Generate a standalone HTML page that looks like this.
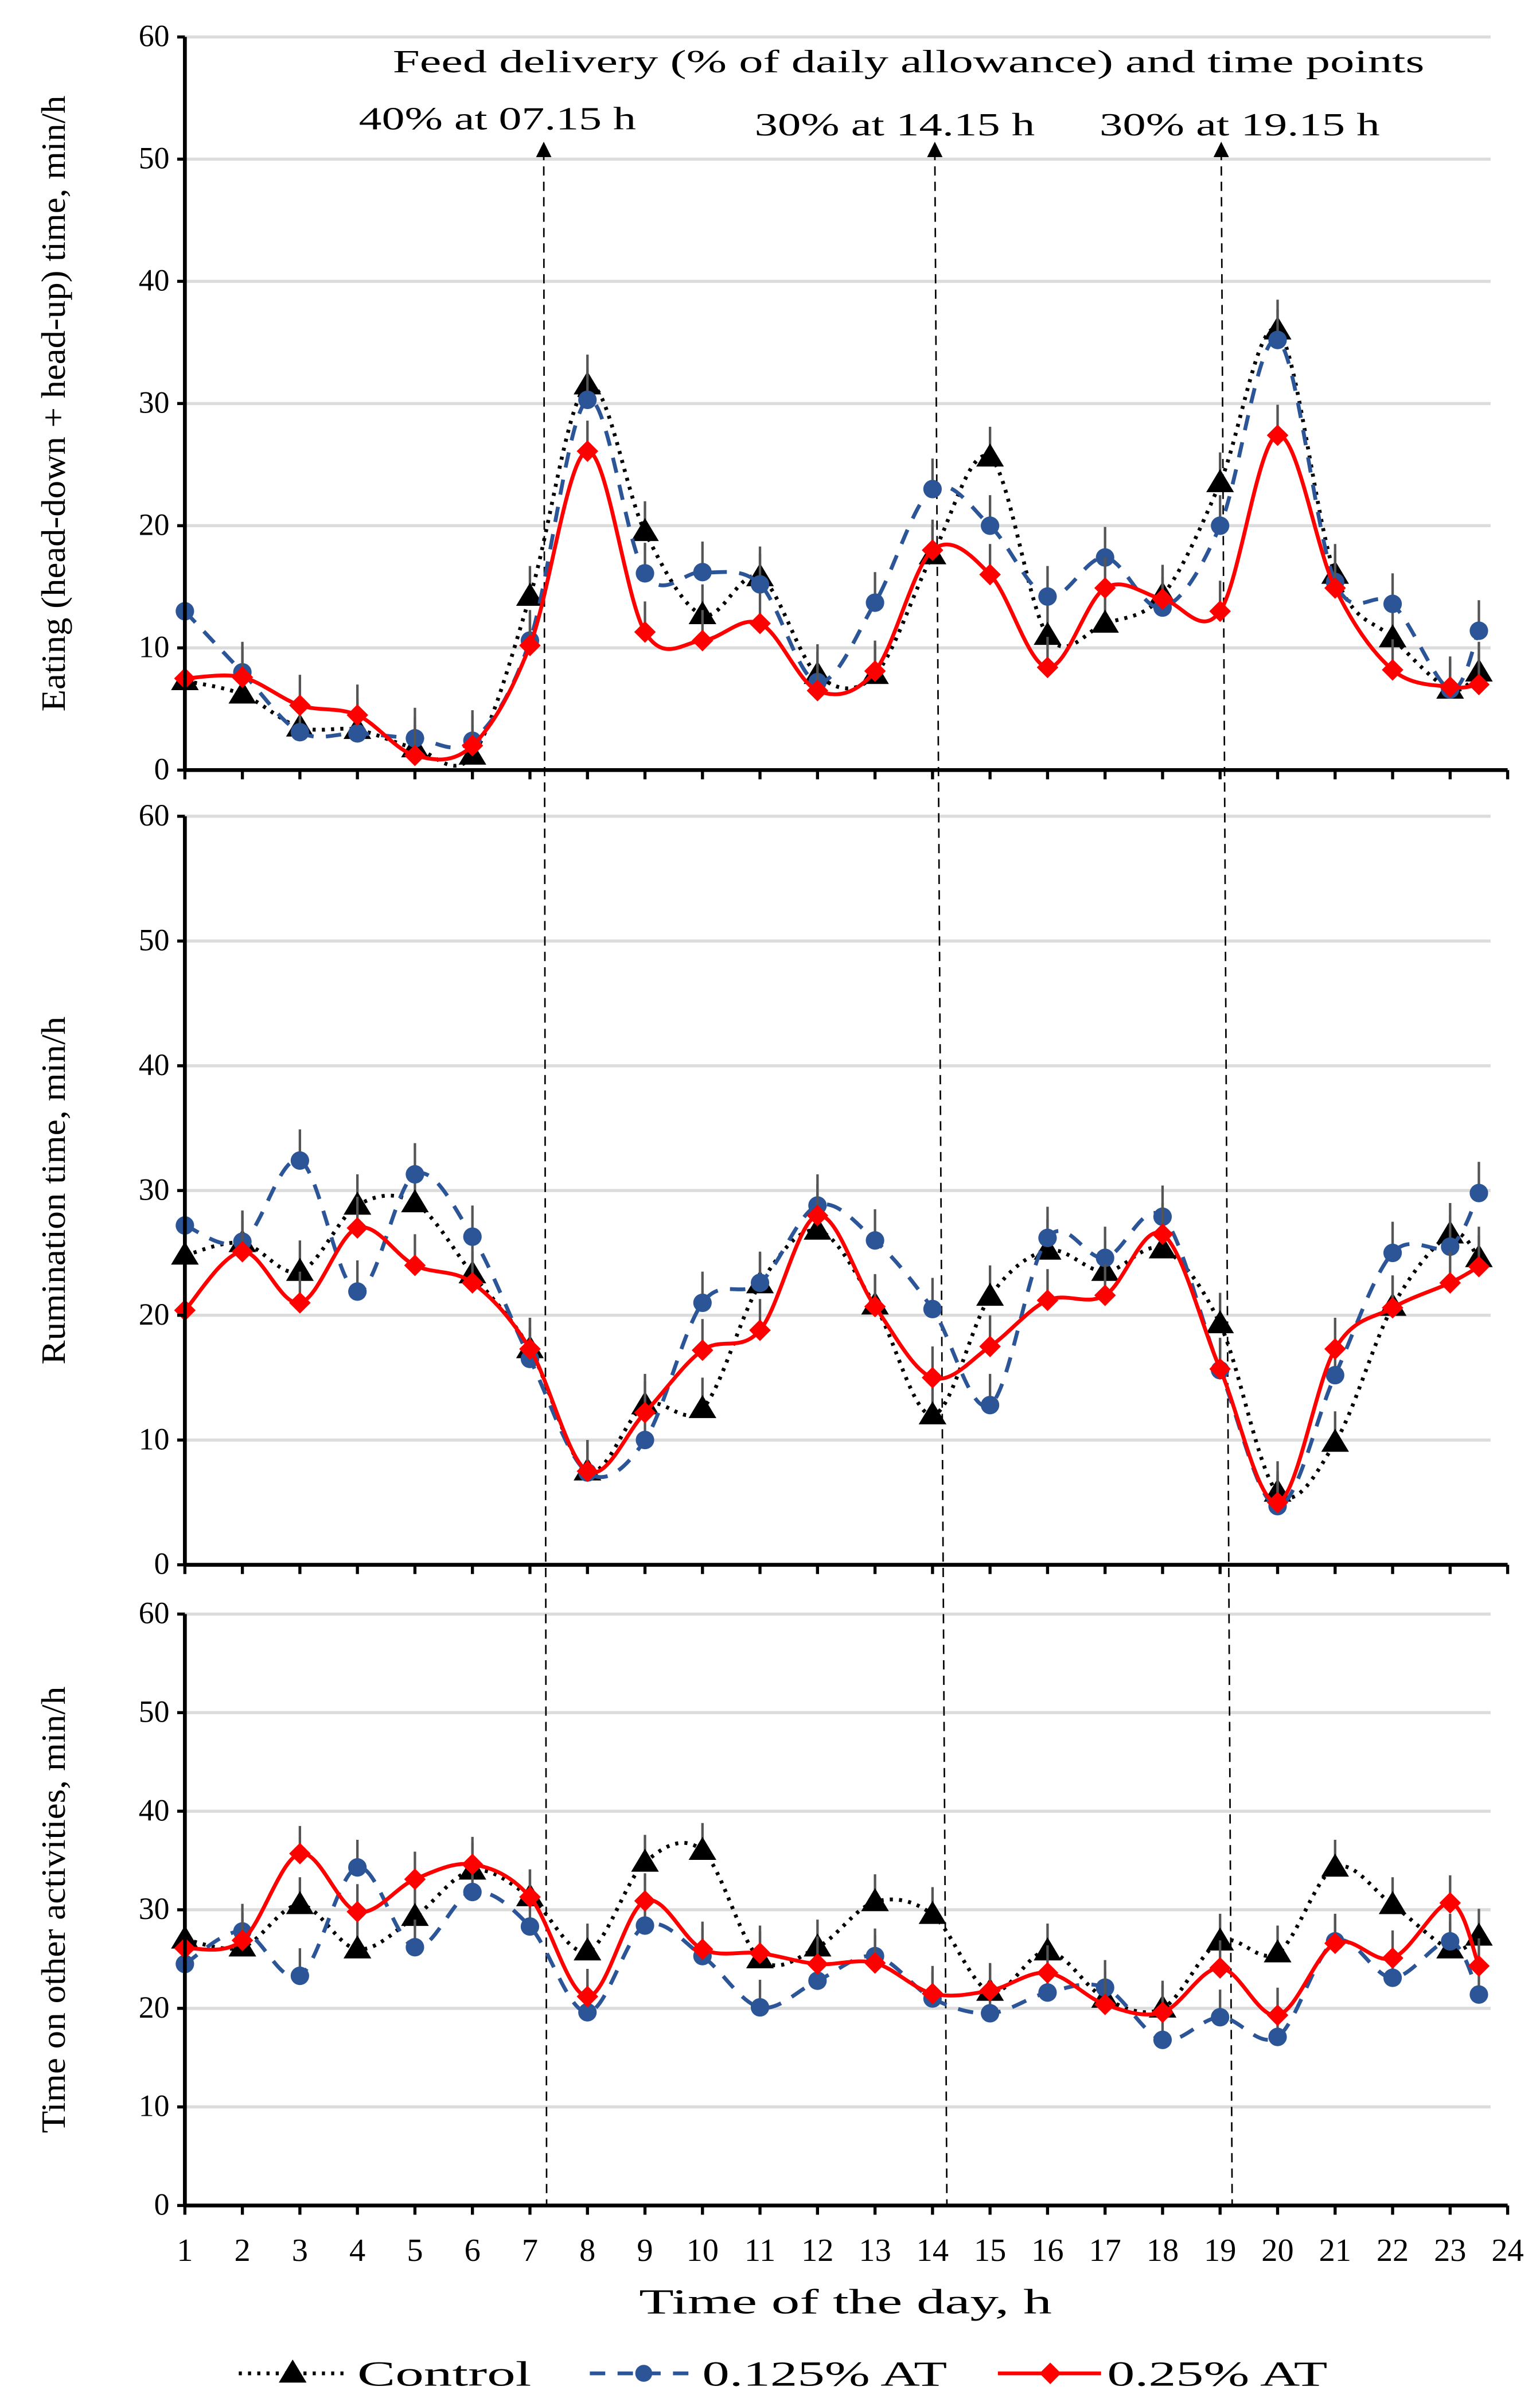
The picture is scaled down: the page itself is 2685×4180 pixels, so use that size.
<!DOCTYPE html>
<html><head><meta charset="utf-8">
<style>html,body{margin:0;padding:0;background:#fff}svg{display:block}text{font-family:"Liberation Serif",serif}</style>
</head><body>
<svg id="chart" xmlns="http://www.w3.org/2000/svg" width="2685" height="4180" viewBox="0 0 1000 1557">
<rect x="0" y="0" width="1000" height="1557" fill="#fff"/>
<g id="grid"></g>
<g id="vlines"></g>
<g id="series"></g>
<g id="axes"></g>
<text x="255" y="47" font-size="21" textLength="670" lengthAdjust="spacingAndGlyphs">Feed delivery  (% of daily allowance) and time points</text>
<text x="233" y="84" font-size="21" textLength="180" lengthAdjust="spacingAndGlyphs">40% at 07.15 h</text>
<text x="490" y="88" font-size="21" textLength="182" lengthAdjust="spacingAndGlyphs">30% at 14.15 h</text>
<text x="714" y="88" font-size="21" textLength="182" lengthAdjust="spacingAndGlyphs">30% at 19.15 h</text>
<text x="415" y="1502" font-size="23" textLength="268" lengthAdjust="spacingAndGlyphs">Time of the day, h</text>
<g>
 <g>
  <line x1="155" y1="1541" x2="225" y2="1541" stroke="#000" stroke-width="2.5" stroke-dasharray="2,4"/>
  <polygon points="190,1532 199,1547 181,1547" fill="#000"/>
  <text x="232" y="1549" font-size="23" textLength="113" lengthAdjust="spacingAndGlyphs">Control</text>
 </g>
 <g>
  <line x1="383" y1="1541" x2="452" y2="1541" stroke="#2c5597" stroke-width="2.5" stroke-dasharray="10,8"/>
  <circle cx="418" cy="1541" r="5.5" fill="#2c5597"/>
  <text x="456" y="1549" font-size="23" textLength="159" lengthAdjust="spacingAndGlyphs">0.125% AT</text>
 </g>
 <g>
  <line x1="648" y1="1541" x2="715" y2="1541" stroke="#f00" stroke-width="2.5"/>
  <polygon points="682,1534 689,1541 682,1548 675,1541" fill="#f00"/>
  <text x="719" y="1549" font-size="23" textLength="143" lengthAdjust="spacingAndGlyphs">0.25% AT</text>
 </g>
</g>
</svg>
<script>
const hours = [1,2,3,4,5,6,7,8,9,10,11,12,13,14,15,16,17,18,19,20,21,22,23,23.5];
const yTicks = [0,10,20,30,40,50,60];
const xTickLabels = [1,2,3,4,5,6,7,8,9,10,11,12,13,14,15,16,17,18,19,20,21,22,23,24];
const feedTimes = [7.24, 14.04, 19.02];
const eatControl = [7.3,6.2,3.5,3.3,1.8,1.2,14.2,31.5,19.5,12.7,15.8,7.8,7.8,17.6,25.6,11,12,14.3,23.5,36,16,10.8,6.6,8];
const eat0125 = [13,8,3.1,3,2.6,2.4,10.6,30.3,16.1,16.2,15.2,7.2,13.7,23,20,14.2,17.4,13.3,20,35.2,15.4,13.6,6.6,11.4];
const eat025 = [7.5,7.6,5.3,4.5,1.2,2,10.2,26.1,11.3,10.6,12,6.5,8.1,18,16,8.4,14.9,14,13,27.4,14.9,8.2,6.8,7];
const rumControl = [24.8,25.8,23.5,28.8,29,23.3,17.3,7.5,12.8,12.5,22.5,26.8,20.8,12,21.5,25.2,23.5,25.3,19.3,5.8,9.8,20.7,26.5,24.6];
const rum0125 = [27.2,25.9,32.4,21.9,31.3,26.3,16.5,7.4,10,21,22.6,28.8,26,20.5,12.8,26.2,24.6,27.9,15.6,4.7,15.2,25,25.5,29.8];
const rum025 = [20.4,25.1,21,27,24,22.6,17.3,7.5,12.2,17.2,18.8,28,20.7,15,17.5,21.2,21.6,26.5,15.7,5,17.3,20.6,22.6,23.9];
const othControl = [27,26.2,30.5,26,29.3,34,31.3,25.8,34.8,36,25,26.2,30.8,29.5,21.7,25.8,21,20,26.8,25.6,34.3,30.5,26,27.3];
const oth0125 = [24.5,27.8,23.3,34.3,26.2,31.8,28.3,19.6,28.4,25.3,20.1,22.8,25.3,21,19.5,21.6,22.1,16.8,19.1,17.1,26.8,23.1,26.8,21.4];
const oth025 = [26.1,26.9,35.7,29.8,33.1,34.6,31.3,21.2,30.9,26,25.6,24.5,24.6,21.5,21.8,23.6,20.4,19.6,24.1,19.3,26.6,25.1,30.7,24.3];
const errEat = [3,2.5,2.5,2.5,2.5,2.5,2.5,2.5,2.5,2.5,2.5,2.5,2.5,2.5,2.5,2.5,2.5,2.5,2.5,2.5,2.5,2.5,2.5,2.5];
const errOther = [2.8,2.8,2.8,2.8,2.8,2.8,2.8,2.8,2.8,2.8,2.8,2.8,2.8,2.8,2.8,2.8,2.8,2.8,2.8,2.8,2.8,2.8,2.8,2.8];

const NS='http://www.w3.org/2000/svg';
function mk(tag, attrs, parent){const e=document.createElementNS(NS,tag);for(const k in attrs)e.setAttribute(k,attrs[k]);parent.appendChild(e);return e;}
const X0=120, DX=37.35;
function xs(h){return X0+(h-1)*DX;}
const panels=[
 {top:24,bot:500,title:'Eating (head-down + head-up) time, min/h',name:'eating',s:[eatControl,eat0125,eat025],err:errEat,ty:262,tl:400},
 {top:530,bot:1016,title:'Rumination time, min/h',name:'rumination',s:[rumControl,rum0125,rum025],err:errEat,ty:773,tl:226},
 {top:1048,bot:1432,title:'Time on other activities, min/h',name:'other',s:[othControl,oth0125,oth025],err:errOther,ty:1240,tl:290}
];
const grid=document.getElementById('grid'),axes=document.getElementById('axes'),series=document.getElementById('series'),vl=document.getElementById('vlines');
function spline(pts){let d='M'+pts[0][0]+','+pts[0][1];for(let i=0;i<pts.length-1;i++){const p0=pts[i-1]||pts[i],p1=pts[i],p2=pts[i+1],p3=pts[i+2]||p2;const t=6;d+=' C'+(p1[0]+(p2[0]-p0[0])/t)+','+(p1[1]+(p2[1]-p0[1])/t)+' '+(p2[0]-(p3[0]-p1[0])/t)+','+(p2[1]-(p3[1]-p1[1])/t)+' '+p2[0]+','+p2[1];}return d;}
const styles=[{c:'#000',dash:'2,4',w:2.5},{c:'#2c5597',dash:'10,8',w:2.5},{c:'#f00',dash:'',w:2.5}];
panels.forEach((p,pi)=>{
 const ys=v=>p.bot-(v/60)*(p.bot-p.top);
 yTicks.forEach(t=>{
  if(t>0){const g=mk('line',{x1:X0,x2:968,y1:ys(t),y2:ys(t),stroke:'#dcdcdc','stroke-width':2},grid);
  
  }
  const tl=mk('text',{x:X0-10,y:ys(t)+6,'font-size':20,'text-anchor':'end'},axes);tl.textContent=t;
  
  
  mk('line',{x1:X0-5,x2:X0,y1:ys(t),y2:ys(t),stroke:'#000','stroke-width':2},axes);
 });
 const ya=mk('line',{x1:X0,x2:X0,y1:p.top,y2:p.bot,stroke:'#000','stroke-width':2.5},axes);
 
 
 const xa=mk('line',{x1:X0,x2:xs(24),y1:p.bot,y2:p.bot,stroke:'#000','stroke-width':2.5},axes);
 
 
 xTickLabels.forEach(h=>{mk('line',{x1:xs(h),x2:xs(h),y1:p.bot,y2:p.bot+6,stroke:'#000','stroke-width':2},axes);});
 const tt=mk('text',{x:0,y:0,'font-size':22,'text-anchor':'middle',textLength:p.tl,lengthAdjust:'spacingAndGlyphs',transform:'translate(42,'+p.ty+') rotate(-90)'},axes);
 tt.textContent=p.title;
 
 
 p.s.forEach((vals,si)=>{
  const st=styles[si];const pts=hours.map((h,i)=>[xs(h),ys(vals[i])]);
  const g=mk('g',{},series);
  
  
  pts.forEach((pt,i)=>{mk('line',{x1:pt[0],x2:pt[0],y1:pt[1],y2:ys(vals[i]+p.err[i]),stroke:'#555','stroke-width':1.6},g);});
  const path=mk('path',{d:spline(pts),fill:'none',stroke:st.c,'stroke-width':st.w},g);
  if(st.dash)path.setAttribute('stroke-dasharray',st.dash);
  pts.forEach(pt=>{let m;
   if(si===0)m=mk('polygon',{points:`${pt[0]},${pt[1]-9} ${pt[0]+9},${pt[1]+6} ${pt[0]-9},${pt[1]+6}`,fill:'#000'},g);
   else if(si===1)m=mk('circle',{cx:pt[0],cy:pt[1],r:6,fill:st.c},g);
   else m=mk('polygon',{points:`${pt[0]},${pt[1]-7} ${pt[0]+7},${pt[1]} ${pt[0]},${pt[1]+7} ${pt[0]-7},${pt[1]}`,fill:st.c},g);
   
   
  });
 });
});
xTickLabels.forEach(h=>{const t=mk('text',{x:xs(h),y:1468,'font-size':21,'text-anchor':'middle'},axes);t.textContent=h;
 
 });
const slant=[0.05,0.21,0.19];
feedTimes.forEach((f,i)=>{const x1=xs(f),x2=x1+slant[i]*DX;
 const l=mk('line',{x1:x1,x2:x2,y1:98,y2:1432,stroke:'#000','stroke-width':1,'stroke-dasharray':'6,4'},vl);
 
 
 const a=mk('polygon',{points:`${x1},92 ${x1+5},102 ${x1-5},102`,fill:'#000'},vl);
 
 
});
</script>
</body></html>
